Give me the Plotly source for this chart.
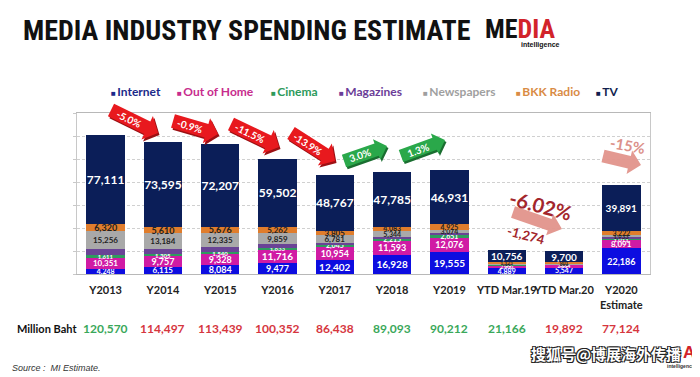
import math
import plotly.graph_objects as go

# ---------------- data ----------------
categories = ["Y2013", "Y2014", "Y2015", "Y2016", "Y2017", "Y2018", "Y2019",
              "YTD Mar.19", "YTD Mar.20", "Y2020<br>Estimate"]
internet   = [4248, 6115, 8084, 9477, 12402, 16928, 19555, 4889, 5547, 22186]
out_of_home = [10351, 9757, 9328, 11716, 10954, 11593, 12076, 2900, 2614, 8091]
cinema     = [1611, 1305, 1540, 1633, 2045, 2215, 2651, 450, 350, 1011]
magazines  = [5673, 4931, 4269, 2903, 1684, 1145, 1000, 250, 180, 790]
newspapers = [15256, 13184, 12335, 9859, 6781, 5344, 3074, 800, 600, 1933]
bkk_radio  = [6320, 5610, 5676, 5262, 3805, 4083, 4925, 1121, 901, 3222]
tv         = [77111, 73595, 72207, 59502, 48767, 47785, 46931, 10756, 9700, 39891]
totals     = [120570, 114497, 113439, 100352, 86438, 89093, 90212, 21166, 19892, 77124]
total_growth = [True, False, False, False, False, True, True, True, False, False]

change_labels = ["-5.0%", "-0.9%", "-11.5%", "-13.9%", "3.0%", "1.3%"]

# ---------------- styles ----------------
C_INT, C_OOH, C_CIN, C_MAG, C_NEWS, C_RAD, C_TV = (
    "#0d0de0", "#d01ba4", "#2e9b5e", "#6a4396", "#a9a9a9", "#e07d2c", "#0b1e58")
FONT = "Lato, 'Open Sans', sans-serif"
COND = "'Liberation Sans Narrow', 'Roboto Condensed', 'DejaVu Sans Condensed', sans-serif"

OFF = 8  # default page body margin of the html page
PX_L, PX_T, PW, PH = 77, 113, 573, 161          # plot area in page pixels
W, H = 700 - OFF, 377 - OFF
L, T = PX_L - OFF, PX_T - OFF
R, B = W - L - PW, H - T - PH


def P(X, Y):
    """page pixel -> paper coordinates"""
    return (X - PX_L) / PW, (PX_T + PH - Y) / PH


fig = go.Figure()


def add_series(name, vals, color, tcolor, tsizes, show_text=True):
    texts = [f"{v:,}" for v in vals] if show_text else [""] * len(vals)
    fig.add_trace(go.Bar(
        name=name, x=categories, y=vals, marker=dict(color=color, line=dict(width=0)),
        text=texts, textposition="inside", insidetextanchor="middle",
        textangle=0, constraintext="none",
        textfont=dict(family=FONT, color=tcolor, size=tsizes, weight="bold"),
        hoverinfo="skip"))


add_series("Internet", internet, C_INT, "white", [7, 8, 9, 9, 10, 10, 10, 7, 7, 9])
add_series("Out of Home", out_of_home, C_OOH, "white", [8, 9, 9, 10, 9, 9, 9, 5, 5, 8])
add_series("Cinema", cinema, C_CIN, "white", [6, 6, 6, 6, 7, 7, 7, 5, 5, 6])
add_series("Magazines", magazines, C_MAG, "white", 6, show_text=False)
add_series("Newspapers", newspapers, C_NEWS, "#222222", [8, 8, 8, 8, 8, 7, 7, 5, 5, 6])
add_series("BKK Radio", bkk_radio, C_RAD, "#222222", [9, 9, 9, 8, 8, 7, 7, 5, 5, 7])
add_series("TV", tv, C_TV, "white", [12, 12, 12, 12, 12, 12, 12, 10, 10, 10])

annotations = []
shapes = []


def note(X, Y, text, size, color, xanchor="center", family=FONT, angle=0, **kw):
    px, py = P(X, Y)
    annotations.append(dict(xref="paper", yref="paper", x=px, y=py, xanchor=xanchor,
                            yanchor="middle", text=text, showarrow=False, textangle=angle,
                            font=dict(family=family, size=size, color=color, **kw)))


# ---- title and logo ----
note(21, 31, "<b>MEDIA INDUSTRY SPENDING ESTIMATE</b>", 28, "#111111", "left", COND)
note(483, 29, "<b>ME<span style='color:#d2232a'>DIA</span></b>", 26, "#111111", "left", COND)
note(562, 45, "<b>intelligence</b>", 7, "#111111", "right", "'Liberation Sans', sans-serif")

# ---- legend (coloured text) ----
legend_items = [("Internet", "#1b2a8a", 109), ("Out of Home", "#c72c8d", 175),
                ("Cinema", "#2d9a5b", 269), ("Magazines", "#6b3d98", 337),
                ("Newspapers", "#9f9f9f", 421), ("BKK Radio", "#d98b45", 514),
                ("TV", "#111f4f", 594)]
for name, col, xpx in legend_items:
    note(xpx, 91, f"<span style='font-size:8px'>■</span>\u2009{name}", 12, col, "left", weight="bold")

# ---- bottom totals row ----
note(15, 328, "<b>Million Baht</b>", 11, "#111111", "left")
for cat, tot, up in zip(categories, totals, total_growth):
    annotations.append(dict(
        xref="x", yref="paper", x=cat, y=P(0, 328)[1], xanchor="center", yanchor="middle",
        text=f"{tot:,}", showarrow=False,
        font=dict(family=FONT, size=12, color="#3aa85a" if up else "#d6363e", weight="bold")))

note(10, 368, "<i>Source :  MI Estimate.</i>", 9, "#333333", "left", "'Liberation Sans', Arial, sans-serif")

# ---- watermark ----
note(697, 352, "<b>A</b>", 17, "#d2232a", "right", "'Liberation Sans', sans-serif")
note(697, 366, "<b>intelligence</b>", 5, "#333333", "right", "'Liberation Sans', sans-serif")
note(606, 353, "<b>搜狐号@博展海外传播</b>", 15, "white", "center", "'Noto Sans CJK SC', sans-serif",
     shadow="-1px -1px 0 #222, 1px -1px 0 #222, -1px 1px 0 #222, 1px 1px 0 #222")


# ---- block arrows ----
def arrow(sx, sy, tx, ty, t, hw, hl, color, label=None, lsize=10, lcolor="white",
          shadow=None, opacity=1.0):
    dx, dy = tx - sx, ty - sy
    ln = math.hypot(dx, dy)
    ux, uy = dx / ln, dy / ln
    vx, vy = -uy, ux
    local = [(0, -t / 2), (ln - hl, -t / 2), (ln - hl, -hw / 2), (ln, 0),
             (ln - hl, hw / 2), (ln - hl, t / 2), (0, t / 2)]

    def build(ox, oy, col):
        pts = []
        for a, b in local:
            X = sx + ox + a * ux + b * vx
            Y = sy + oy + a * uy + b * vy
            pts.append(P(X, Y))
        path = "M " + " L ".join(f"{x:.5f},{y:.5f}" for x, y in pts) + " Z"
        shapes.append(dict(type="path", xref="paper", yref="paper", path=path,
                           fillcolor=col, line=dict(width=0), opacity=opacity, layer="above"))

    if shadow:
        build(1.5, 2.0, shadow)
    build(0, 0, color)
    if label:
        ang = math.degrees(math.atan2(dy, dx))
        cx = sx + ux * (ln - hl) * 0.5
        cy = sy + uy * (ln - hl) * 0.5
        note(cx, cy, f"<b>{label}</b>", lsize, lcolor, "center", angle=ang)


RED, RED_SH, GREEN, GREEN_SH, SALMON = "#e8191e", "#9c1014", "#2aa84a", "#1a6e30", "#e2938b"
arrow(111, 110, 158, 133, 14, 26, 12, RED, change_labels[0], shadow=RED_SH)
arrow(173, 121, 218, 134, 14, 26, 12, RED, change_labels[1], shadow=RED_SH)
arrow(231, 124, 279, 147, 14, 26, 12, RED, change_labels[2], shadow=RED_SH)
arrow(291, 133, 335, 161, 14, 26, 12, RED, change_labels[3], shadow=RED_SH)
arrow(344, 161, 387, 146, 13, 22, 11, GREEN, change_labels[4], shadow=GREEN_SH)
arrow(401, 156, 445, 140, 13, 22, 11, GREEN, change_labels[5], shadow=GREEN_SH)
arrow(513, 212, 562, 229, 12, 22, 13, SALMON, opacity=0.95)
arrow(603, 156, 641, 165, 13, 24, 12, SALMON, opacity=0.95)

note(540, 205, "<b>-6.02%</b>", 20, "#a3262c", angle=15)
note(526, 235, "<b>-1,274</b>", 13, "#a3262c", angle=15)
note(627, 145, "<b>-15%</b>", 15, "#dc918a", angle=10)

fig.update_layout(
    barmode="stack", bargap=0.33, width=W, height=H,
    margin=dict(l=L, r=R, t=T, b=B, pad=0, autoexpand=False),
    paper_bgcolor="white", plot_bgcolor="white", showlegend=False,
    annotations=annotations, shapes=shapes,
    xaxis=dict(showline=True, linecolor="#b8b8b8", linewidth=1, mirror=True, ticks="",
               tickangle=0, automargin=False,
               tickfont=dict(family=FONT, size=11, color="#222222", weight="bold"),
               ticklabelstandoff=6, fixedrange=True),
    yaxis=dict(range=[0, 140000], dtick=20000, showticklabels=False, ticks="outside",
               ticklen=3, tickcolor="#c8c8c8", showgrid=True, gridcolor="#d0d0d0",
               griddash="3px,2px", showline=True, linecolor="#c8c8c8", mirror=True,
               zeroline=False, automargin=False, fixedrange=True),
)

fig.write_html("out.html")
